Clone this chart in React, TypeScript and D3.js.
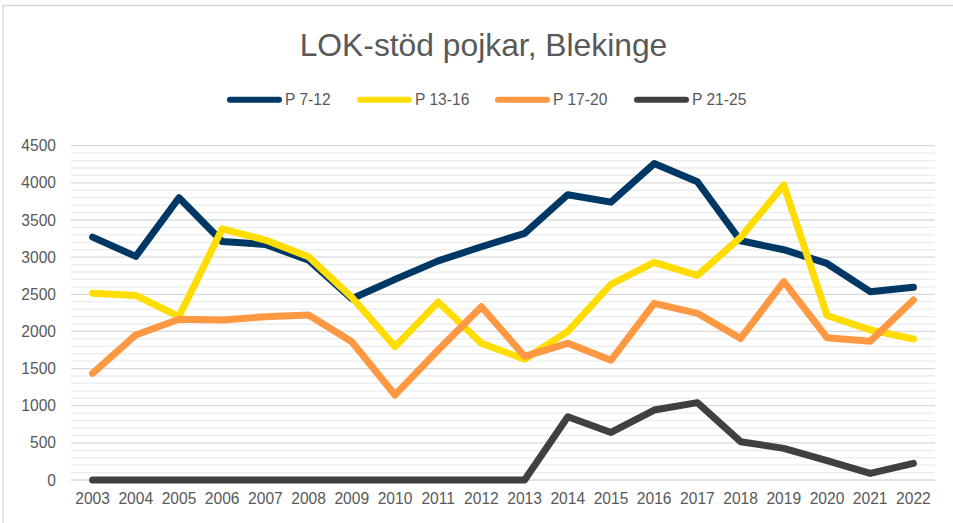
import React from "react";
import * as d3 from "d3";

const years = ["2003","2004","2005","2006","2007","2008","2009","2010","2011","2012","2013","2014","2015","2016","2017","2018","2019","2020","2021","2022"];
const p7_12 = [3270, 3010, 3800, 3210, 3170, 2960, 2440, 2700, 2950, 3140, 3320, 3840, 3740, 4260, 4015, 3220, 3100, 2915, 2535, 2595];
const p13_16 = [2515, 2485, 2200, 3380, 3230, 3005, 2460, 1795, 2395, 1840, 1625, 2000, 2635, 2930, 2755, 3265, 3970, 2215, 2020, 1898];
const p17_20 = [1436, 1952, 2163, 2154, 2198, 2221, 1862, 1145, 1750, 2333, 1665, 1840, 1612, 2378, 2244, 1905, 2670, 1915, 1868, 2423];
const p21_25 = [0, 0, 0, 0, 0, 0, 0, 0, 0, 0, 0, 852, 640, 942, 1041, 516, 426, 262, 88, 224];
const seriesNames = ["P 7-12", "P 13-16", "P 17-20", "P 21-25"];
const seriesColors = ["#003865", "#FFDD00", "#FF9843", "#404040"];
const yTicks = [0, 500, 1000, 1500, 2000, 2500, 3000, 3500, 4000, 4500];
const title = "LOK-stöd pojkar, Blekinge";

export default function App() {
  const W = 953, H = 523;
  const x = d3.scaleBand<string>().domain(years).range([71, 935]);
  const cx = (yr: string) => (x(yr) as number) + x.bandwidth() / 2;
  const y = d3.scaleLinear().domain([0, 4500]).range([480, 145.7]);
  const minor = d3.range(0, 4501, 100).filter((v) => v % 500 !== 0);
  const data = [p7_12, p13_16, p17_20, p21_25];
  const line = d3.line<number>().x((_, i) => cx(years[i])).y((v) => y(v));
  const font = "'Liberation Sans', Arial, sans-serif";
  const legendX = [227, 357, 495, 634];

  return (
    <svg width={W} height={H} style={{ position: "absolute", left: 0, top: 0, background: "#fff" }} fontFamily={font}>
      <rect x={0} y={0} width={W} height={H} fill="#fff" />
      <rect x={3} y={5.5} width={W + 20} height={H + 20} fill="none" stroke="#d9d9d9" strokeWidth={1.5} />
      <text x={483.5} y={56} textAnchor="middle" fontSize={31.8} fill="#595959">{title}</text>
      {seriesNames.map((n, i) => (
        <g key={n}>
          <line x1={legendX[i] + 3} x2={legendX[i] + 52} y1={99.7} y2={99.7} stroke={seriesColors[i]} strokeWidth={6} strokeLinecap="round" />
          <text x={legendX[i] + 58} y={105.3} fontSize={15.6} fill="#595959">{n}</text>
        </g>
      ))}
      {minor.map((v) => (
        <line key={"m" + v} x1={71} x2={935} y1={y(v)} y2={y(v)} stroke="#ececec" strokeWidth={1.3} />
      ))}
      {yTicks.map((v) => (
        <g key={"t" + v}>
          <line x1={71} x2={935} y1={y(v)} y2={y(v)} stroke="#d9d9d9" strokeWidth={1.3} />
          <text x={56} y={y(v) + 5.6} textAnchor="end" fontSize={15.6} fill="#595959">{v}</text>
        </g>
      ))}
      {years.map((yr) => (
        <text key={yr} x={cx(yr)} y={503.5} textAnchor="middle" fontSize={15.6} fill="#595959">{yr}</text>
      ))}
      {data.map((d, i) => (
        <path key={i} d={line(d) || ""} fill="none" stroke={seriesColors[i]} strokeWidth={7} strokeLinejoin="round" strokeLinecap="round" />
      ))}
    </svg>
  );
}
